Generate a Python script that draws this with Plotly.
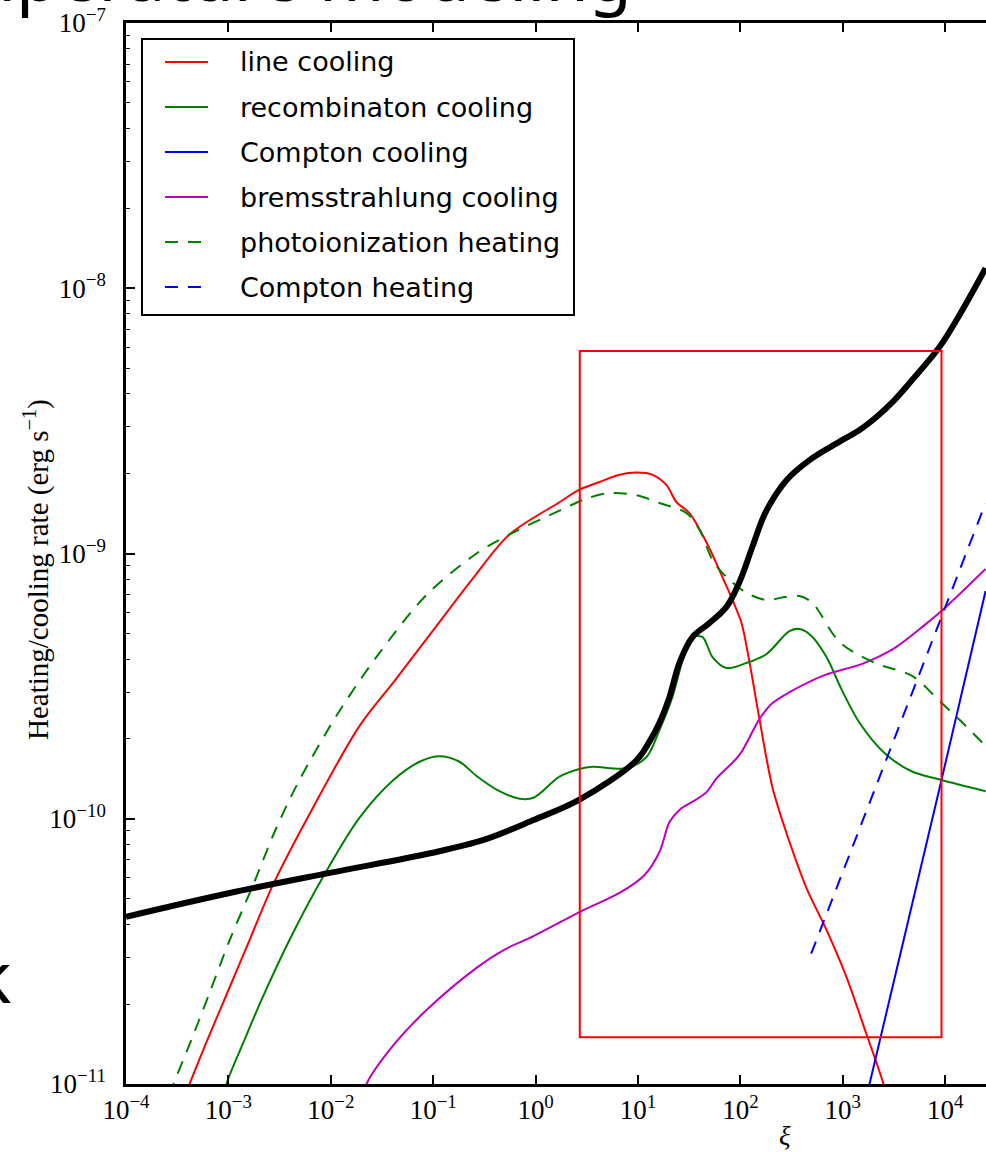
import plotly.graph_objects as go

# ---- heating / cooling rates vs ionization parameter xi ----
eq_xi = [1.0e-4, 1.03e-3, 9.7e-3, 0.0962, 0.310, 0.955, 2.68, 9.66, 12.9, 16.2, 20.3,
         25.4, 34.0, 49.9, 73.1, 97.9, 131, 176, 282, 473, 993, 1456, 2130, 3055, 4480, 8790, 13800, 24800]
eq_rate = [4.27e-11, 5.25e-11, 6.25e-11, 7.43e-11, 8.32e-11, 9.89e-11, 1.18e-10, 1.66e-10,
           1.95e-10, 2.30e-10, 2.88e-10, 3.87e-10, 4.84e-10, 5.47e-10, 6.29e-10, 7.81e-10, 1.06e-9,
           1.43e-9, 1.89e-9, 2.25e-9, 2.68e-9, 2.92e-9, 3.27e-9, 3.72e-9, 4.39e-9, 6.00e-9, 7.93e-9, 1.19e-8]

line_xi = [4.17e-4, 6.25e-4, 9.58e-4, 1.61e-3, 2.75e-3, 6.78e-3, 0.0191, 0.0425, 0.1007, 0.237, 0.556,
           1.71, 2.68, 4.21, 6.59, 9.66, 13.9, 19.0, 23.8, 31.8, 46.7, 66.8, 83.7, 102.5, 123, 154, 206,
           302, 442, 693, 1086, 1703, 2495, 2860]
line_rate = [1.0e-11, 1.47e-11, 2.17e-11, 3.49e-11, 5.68e-11, 1.11e-10, 2.24e-10, 3.33e-10, 5.15e-10,
             7.94e-10, 1.18e-9, 1.56e-9, 1.74e-9, 1.86e-9, 1.98e-9, 2.02e-9, 1.98e-9, 1.81e-9, 1.56e-9,
             1.42e-9, 1.10e-9, 8.15e-10, 6.68e-10, 5.47e-10, 3.87e-10, 2.36e-10, 1.31e-10, 8.17e-11,
             5.48e-11, 3.81e-11, 2.53e-11, 1.54e-11, 1.0e-11, 7.98e-12]

recomb_xi = [8.57e-4, 9.58e-4, 1.44e-3, 2.10e-3, 3.95e-3, 8.49e-3, 0.0191, 0.0409, 0.0735, 0.115,
             0.181, 0.265, 0.444, 0.696, 0.955, 1.71, 2.68, 3.60, 7.73, 12.1, 16.2, 21.7, 29.8, 34.0,
             42.7, 53.4, 73.1, 115, 180, 301, 378, 494, 693, 970, 1456, 2550, 4690, 9200, 24800]
recomb_rate = [7.98e-12, 1.0e-11, 1.47e-11, 2.07e-11, 3.49e-11, 6.08e-11, 1.01e-10, 1.40e-10, 1.64e-10,
               1.72e-10, 1.64e-10, 1.45e-10, 1.27e-10, 1.19e-10, 1.20e-10, 1.44e-10, 1.54e-10, 1.57e-10,
               1.55e-10, 1.71e-10, 2.16e-10, 2.88e-10, 4.44e-10, 4.84e-10, 4.84e-10, 4.07e-10, 3.70e-10,
               3.87e-10, 4.18e-10, 5.10e-10, 5.19e-10, 4.89e-10, 4.07e-10, 3.08e-10, 2.30e-10, 1.77e-10,
               1.51e-10, 1.40e-10, 1.27e-10]

compton_cool_xi = [1600, 1824, 9200, 24800]
compton_cool_rate = [8.05e-12, 1.0e-11, 1.40e-10, 7.22e-10]

brems_xi = [0.0200, 0.0223, 0.0409, 0.0861, 0.265, 0.497, 0.955, 2.68, 6.59, 11.6, 16.2, 20.3, 25.4,
            35.6, 46.7, 58.5, 97.9, 154, 206, 302, 662, 1525, 3200, 6280, 9420, 24800]
brems_rate = [8.7e-12, 1.0e-11, 1.40e-11, 1.90e-11, 2.74e-11, 3.21e-11, 3.61e-11, 4.45e-11, 5.25e-11,
              6.14e-11, 7.49e-11, 9.72e-11, 1.08e-10, 1.17e-10, 1.26e-10, 1.42e-10, 1.74e-10, 2.38e-10,
              2.73e-10, 3.00e-10, 3.48e-10, 3.83e-10, 4.40e-10, 5.37e-10, 6.12e-10, 8.74e-10]

photo_xi = [2.66e-4, 2.91e-4, 4.36e-4, 6.53e-4, 1.03e-3, 1.76e-3, 2.88e-3, 4.94e-3, 0.01216, 0.0299,
            0.0861, 0.265, 0.556, 1.71, 3.14, 5.27, 9.66, 16.2, 29.8, 39.9, 53.4, 73.1, 115, 180, 270,
            378, 506, 929, 2040, 4800, 8790, 13800, 24800]
photo_rate = [9.09e-12, 1.0e-11, 1.47e-11, 2.20e-11, 3.49e-11, 5.68e-11, 9.07e-11, 1.40e-10, 2.55e-10,
              4.22e-10, 6.98e-10, 1.00e-9, 1.18e-9, 1.45e-9, 1.61e-9, 1.69e-9, 1.66e-9, 1.55e-9, 1.42e-9,
              1.23e-9, 9.45e-10, 8.15e-10, 7.10e-10, 6.68e-10, 6.85e-10, 6.92e-10, 6.51e-10, 4.64e-10,
              3.87e-10, 3.45e-10, 2.78e-10, 2.36e-10, 1.88e-10]

compton_heat_xi = [491, 24800]
compton_heat_rate = [3.1e-11, 1.55e-9]

# highlighted region
box_xi = [2.7, 9.2e3]
box_rate = [1.5e-11, 5.8e-9]

# axis ticks
x_tick_vals = [1e-4, 1e-3, 1e-2, 1e-1, 1e0, 1e1, 1e2, 1e3, 1e4]
x_tick_text = ["10<sup>−4</sup>", "10<sup>−3</sup>", "10<sup>−2</sup>", "10<sup>−1</sup>", "10<sup>0</sup>",
               "10<sup>1</sup>", "10<sup>2</sup>", "10<sup>3</sup>", "10<sup>4</sup>"]
y_tick_vals = [1e-11, 1e-10, 1e-9, 1e-8, 1e-7]
y_tick_text = ["10<sup>−11</sup>", "10<sup>−10</sup>", "10<sup>−9</sup>", "10<sup>−8</sup>", "10<sup>−7</sup>"]
y_minor_vals = [m * 10.0 ** e for e in range(-11, -7) for m in range(2, 10)]

RED, GREEN, BLUE, MAGENTA = "#ff0000", "#008000", "#0000ff", "#bf00bf"
DASH = "13px,10px"

series = [
    ("line cooling", line_xi, line_rate, RED, "solid"),
    ("recombinaton cooling", recomb_xi, recomb_rate, GREEN, "solid"),
    ("Compton cooling", compton_cool_xi, compton_cool_rate, BLUE, "solid"),
    ("bremsstrahlung cooling", brems_xi, brems_rate, MAGENTA, "solid"),
    ("photoionization heating", photo_xi, photo_rate, GREEN, DASH),
    ("Compton heating", compton_heat_xi, compton_heat_rate, BLUE, DASH),
]

fig = go.Figure()
for name, xs, ys, color, dash in series:
    fig.add_trace(go.Scatter(x=xs, y=ys, mode="lines", name=name,
                             line=dict(color=color, width=2, dash=dash, shape="spline", smoothing=0.9)))

# net rate curve (thick black)
fig.add_trace(go.Scatter(x=eq_xi, y=eq_rate, mode="lines", name="net",
                         line=dict(color="black", width=6, shape="spline", smoothing=1.0)))

# red box
fig.add_shape(type="rect", xref="x", yref="y", x0=box_xi[0], x1=box_xi[1], y0=box_rate[0], y1=box_rate[1],
              line=dict(color=RED, width=2), fillcolor="rgba(0,0,0,0)", layer="above")

# legend box drawn in paper coordinates
L = 126.0
PW = 860.0
T = 23.0
PH = 1061.0


def px(x):
    return (x - L) / PW


def py(y):
    return (T + PH - y) / PH


fig.add_shape(type="rect", xref="paper", yref="paper", x0=px(142), x1=px(574), y0=py(315), y1=py(39),
              line=dict(color="black", width=2), fillcolor="white", layer="above")
for i, (name, xs, ys, color, dash) in enumerate(series):
    yc = 62 + 45 * i
    fig.add_shape(type="line", xref="paper", yref="paper", x0=px(165), x1=px(208), y0=py(yc), y1=py(yc),
                  line=dict(color=color, width=2, dash=dash), layer="above")
    fig.add_annotation(xref="paper", yref="paper", x=px(238), y=py(yc), text=name, showarrow=False,
                       xanchor="left", yanchor="middle",
                       font=dict(family="DejaVu Sans", size=27, color="black"))

# axis titles
fig.add_annotation(xref="paper", yref="paper", x=px(36), y=py(570), text="Heating/cooling rate (erg s<sup>−1</sup>)",
                   textangle=-90, showarrow=False, xanchor="center", yanchor="middle",
                   font=dict(family="Liberation Serif", size=29, color="black"))
fig.add_annotation(xref="paper", yref="paper", x=px(785), y=py(1136), text="<i>ξ</i>", showarrow=False,
                   xanchor="center", yanchor="middle",
                   font=dict(family="Liberation Serif", size=27, color="black"))

# slide text around the figure
fig.add_annotation(xref="paper", yref="paper", x=px(634), y=py(-26), text="Temperature modeling",
                   showarrow=False, xanchor="right", yanchor="middle",
                   font=dict(family="Noto Sans", size=70, color="black"))
fig.add_annotation(xref="paper", yref="paper", x=px(13), y=py(975), text="k",
                   showarrow=False, xanchor="right", yanchor="middle",
                   font=dict(family="Noto Sans", size=72, color="black"))

tick_font = dict(family="Liberation Serif", size=27, color="black")
fig.update_xaxes(type="log", range=[-4, -4 + PW / 102.4], tickmode="array", tickvals=x_tick_vals,
                 ticktext=x_tick_text, ticks="inside", ticklen=9, tickwidth=1.5, tickcolor="black",
                 showline=True, linecolor="black", linewidth=2.5, mirror="ticks", showgrid=False,
                 zeroline=False, tickfont=tick_font)
fig.update_yaxes(type="log", range=[-11, -7], tickmode="array", tickvals=y_tick_vals, ticktext=y_tick_text,
                 ticks="inside", ticklen=9, tickwidth=1.5, tickcolor="black", showline=True,
                 linecolor="black", linewidth=2.5, mirror=False, showgrid=False, zeroline=False,
                 tickfont=tick_font, ticklabelstandoff=12,
                 minor=dict(tickmode="array", tickvals=y_minor_vals, ticks="inside", ticklen=4.5,
                            tickwidth=1.2, tickcolor="black", showgrid=False))

fig.update_layout(width=986, height=1152, margin=dict(l=L, r=0, t=T, b=1152 - T - PH),
                  paper_bgcolor="white", plot_bgcolor="white", showlegend=False)

fig.write_html("out.html")
